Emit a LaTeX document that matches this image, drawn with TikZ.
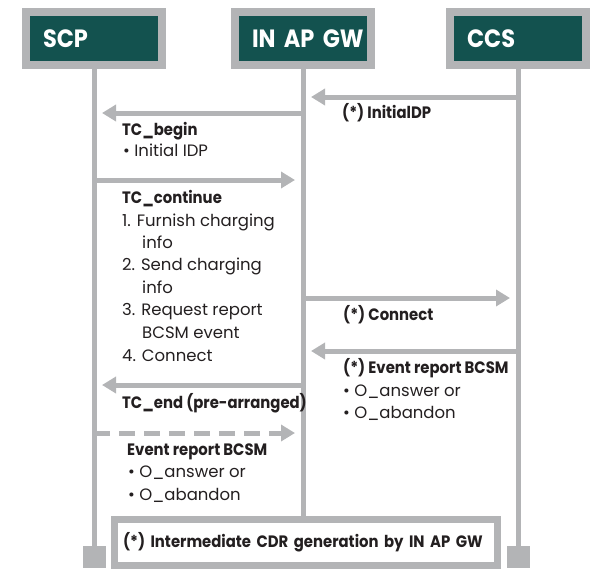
\documentclass[tikz,border=0pt]{standalone}
\usepackage{fontspec}
\setmainfont{Poppins}[BoldFeatures={FakeStretch=0.9}]
\usetikzlibrary{arrows.meta}

\definecolor{rule}{HTML}{B3B4B6}
\definecolor{head}{HTML}{13524F}
\definecolor{ink}{HTML}{231F20}

\tikzset{
  actor/.style={draw=rule, line width=8pt, fill=head, minimum width=136pt,
    minimum height=52.5pt, inner xsep=17pt, text width=102pt, align=left,
    text=white, font=\bfseries\fontsize{25}{25}\selectfont},
  life/.style={draw=rule, line width=5pt},
  capbox/.style={fill=rule, inner sep=0pt, minimum width=23pt, minimum height=22pt, anchor=north},
  msg/.style={draw=rule, line width=5pt, -{Triangle[length=14pt,width=16pt]}, shorten >=8pt},
  async/.style={msg, dash pattern=on 16pt off 9pt},
  lbl/.style={anchor=base west, inner sep=0pt, text=ink, font=\fontsize{16.5}{20}\selectfont},
  blbl/.style={lbl, font=\bfseries\fontsize{16.5}{20}\selectfont},
}

\begin{document}
\begin{tikzpicture}[x=1pt, y=-1pt]
  \useasboundingbox (0,0) rectangle (599,568);

  % participants
  \node (scp) [actor] at (94,38.25)  {SCP};
  \node (gw)  [actor] at (303,38.25) {\mbox{IN AP GW}};
  \node (ccs) [actor] at (518,38.25) {CCS};

  % closing note
  \node (note) [draw=rule, line width=7pt, minimum width=383pt, minimum height=45.5pt,
    inner xsep=8.5pt, text width=366pt, align=left, text=ink,
    font=\bfseries\fontsize{16.5}{20}\selectfont]
    at (306,542.5) {(*) Intermediate CDR generation by IN AP GW};

  % lifeline end caps
  \node (scpcap) [capbox] at (94,546) {};
  \node (ccscap) [capbox] at (518,546) {};

  % lifelines
  \draw[life] (scp.south) -- (scpcap.north);
  \draw[life] (gw.south)  -- (gw.south |- note.north);
  \draw[life] (ccs.south) -- (ccscap.north);

  % message anchor points on each lifeline
  \foreach \n/\y in {1/97, 2/113, 3/180, 4/298, 5/351, 6/385, 7/433} {
    \coordinate (s\n) at (94,\y);
    \coordinate (g\n) at (303,\y);
    \coordinate (c\n) at (518,\y);
  }

  % messages
  \draw[msg]   (c1) -- (g1);
  \draw[msg]   (g2) -- (s2);
  \draw[msg]   (s3) -- (g3);
  \draw[msg]   (g4) -- (c4);
  \draw[msg]   (c5) -- (g5);
  \draw[msg]   (g6) -- (s6);
  \draw[async] (s7) -- (g7);

  % labels: IN AP GW <-> CCS
  \node (t1)  [blbl] at (342,118) {(*) InitialDP};
  \node (t4)  [blbl] at (343,320) {(*) Connect};
  \node (t5)  [blbl] at (343,373) {(*) Event report BCSM};
  \node (t5a) [lbl]  at (343,396) {• O\_answer or};
  \node (t5b) [lbl]  at (343,418) {• O\_abandon};

  % labels: SCP <-> IN AP GW
  \node (t2)  [blbl] at (122,135) {TC\_begin};
  \node (t2a) [lbl]  at (123,156) {• Initial IDP};

  \node (t3)  [blbl] at (122,203) {TC\_continue};
  \node (t3a) [lbl]  at (122,226) {1. Furnish charging};
  \node (t3b) [lbl]  at (142,248) {info};
  \node (t3c) [lbl]  at (122,270) {2. Send charging};
  \node (t3d) [lbl]  at (142,293) {info};
  \node (t3e) [lbl]  at (122,315) {3. Request report};
  \node (t3f) [lbl]  at (142,338) {BCSM event};
  \node (t3g) [lbl]  at (122,361) {4. Connect};

  \node (t6)  [blbl] at (122,408) {TC\_end (pre-arranged)};

  \node (t7)  [blbl] at (127,455) {Event report BCSM};
  \node (t7a) [lbl]  at (128,477) {• O\_answer or};
  \node (t7b) [lbl]  at (128,500) {• O\_abandon};
\end{tikzpicture}
\end{document}
